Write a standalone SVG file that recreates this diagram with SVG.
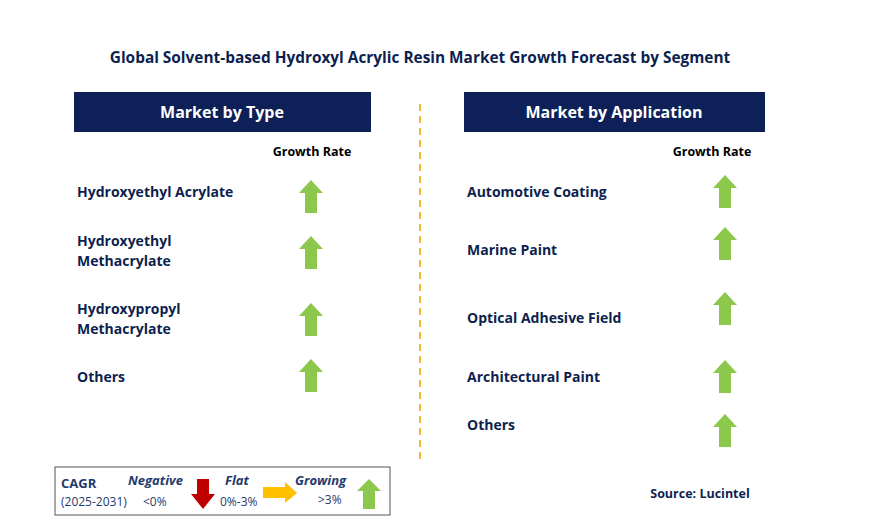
<svg xmlns="http://www.w3.org/2000/svg" width="872" height="523" viewBox="0 0 872 523">
<style>
text{font-family:"Open Sans","Liberation Sans",sans-serif;}
.t{font-size:15.4px;font-weight:bold;fill:#0d1f4f}
.h{font-size:16px;font-weight:bold;fill:#fff}
.g{font-size:12.5px;font-weight:bold;fill:#000}
.l{font-size:14px;font-weight:bold;fill:#0d1f4f}
.up{fill:#8cc84b}
.lg{font-size:12px;fill:#1f3a6e}
.lgi{font-size:13px;font-weight:bold;font-style:italic;fill:#1f3a6e}
</style>
<defs>
<path id="up" class="up" d="M0 0 L12 13 L6 13 L6 33 L-6 33 L-6 13 L-12 13 Z"/>
</defs>
<rect width="872" height="523" fill="#fff"/>
<text class="t" x="420" y="63" text-anchor="middle">Global Solvent-based Hydroxyl Acrylic Resin Market Growth Forecast by Segment</text>
<g id="left-header"><rect x="74" y="92" width="297" height="40" fill="#0d2158"/><text class="h" x="222" y="118" text-anchor="middle">Market by Type</text></g>
<g id="right-header"><rect x="464" y="92" width="301" height="40" fill="#0d2158"/><text class="h" x="614" y="118" text-anchor="middle">Market by Application</text></g>
<g id="connectors"><line x1="420" y1="104" x2="420" y2="462" stroke="#f5b82e" stroke-width="2" stroke-dasharray="7,5"/></g>
<text class="g" x="312" y="156" text-anchor="middle">Growth Rate</text>
<text class="g" x="712" y="156" text-anchor="middle">Growth Rate</text>
<g id="type1"><text class="l" x="77" y="197">Hydroxyethyl Acrylate</text><use href="#up" x="311" y="180"/></g>
<g id="type2"><text class="l" x="77" y="246">Hydroxyethyl</text><text class="l" x="77" y="266">Methacrylate</text><use href="#up" x="311" y="236"/></g>
<g id="type3"><text class="l" x="77" y="314">Hydroxypropyl</text><text class="l" x="77" y="334">Methacrylate</text><use href="#up" x="311" y="303"/></g>
<g id="type4"><text class="l" x="77" y="382">Others</text><use href="#up" x="311" y="359"/></g>
<g id="app1"><text class="l" x="467" y="197">Automotive Coating</text><use href="#up" x="725" y="175"/></g>
<g id="app2"><text class="l" x="467" y="255">Marine Paint</text><use href="#up" x="725" y="227"/></g>
<g id="app3"><text class="l" x="467" y="323">Optical Adhesive Field</text><use href="#up" x="725" y="292"/></g>
<g id="app4"><text class="l" x="467" y="382">Architectural Paint</text><use href="#up" x="725" y="360"/></g>
<g id="app5"><text class="l" x="467" y="430">Others</text><use href="#up" x="725" y="414"/></g>
<g id="legend">
<rect x="55" y="467" width="335" height="48" fill="#fff" stroke="#555" stroke-width="1"/>
<text class="lgi" x="61" y="488" style="font-style:normal">CAGR</text>
<text class="lg" x="61" y="506">(2025-2031)</text>
<text class="lgi" x="128" y="485">Negative</text>
<text class="lg" x="143" y="506">&lt;0%</text>
<path d="M197 479 L209 479 L209 494 L215 494 L203 509 L191 494 L197 494 Z" fill="#c00000"/>
<text class="lgi" x="225" y="485">Flat</text>
<text class="lg" x="220" y="506">0%-3%</text>
<path d="M263 487 L285 487 L285 482 L297 493 L285 503 L285 498 L263 498 Z" fill="#ffc000"/>
<text class="lgi" x="295" y="485">Growing</text>
<text class="lg" x="318" y="504">&gt;3%</text>
<path d="M369 479 L381 491 L375 491 L375 509 L363 509 L363 491 L357 491 Z" class="up"/>
</g>
<text x="700" y="498" text-anchor="middle" style="font-size:12.5px;font-weight:bold;fill:#0d1f4f">Source: Lucintel</text>
</svg>
